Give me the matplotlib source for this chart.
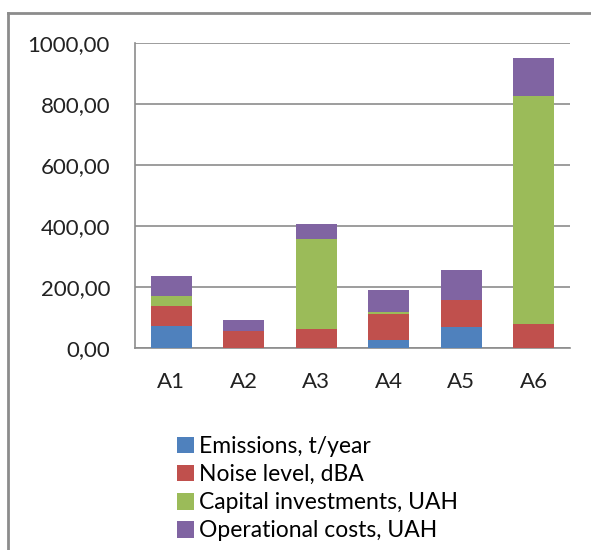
import matplotlib

matplotlib.use("Agg")
import matplotlib.pyplot as plt
import numpy as np
from matplotlib.lines import Line2D

# data
categories = ["A1", "A2", "A3", "A4", "A5", "A6"]
emissions = [71, 0, 0, 26, 68, 0]
noise = [67, 55, 62, 87, 91, 80]
capital = [33, 0, 297, 5, 0, 747]
operational = [66, 38, 49, 71, 96, 125]

series = [
    ("Emissions, t/year", emissions, "#4F81BD"),
    ("Noise level, dBA", noise, "#C0504D"),
    ("Capital investments, UAH", capital, "#9BBB59"),
    ("Operational costs, UAH", operational, "#8064A2"),
]
yticks = [0, 200, 400, 600, 800, 1000]

plt.rcParams["font.family"] = ["Lato", "DejaVu Sans"]
W, H = 591, 550
fig = plt.figure(figsize=(W / 100, H / 100), dpi=100)
ax = fig.add_axes([135 / W, 1 - 348 / H, 435 / W, 305 / H])

x = np.arange(len(categories))
bottom = np.zeros(len(categories))
for label, vals, color in series:
    vals = np.array(vals, dtype=float)
    ax.bar(x, vals, 0.57, bottom=bottom, color=color, label=label, zorder=3)
    bottom += vals

ax.set_xlim(-0.5, len(categories) - 0.5)
ax.set_ylim(0, 1000)
ax.set_yticks(yticks)
ax.set_yticklabels([f"{v:.2f}".replace(".", ",") for v in yticks])
ax.set_xticks(x)
ax.set_xticklabels(categories)
ax.tick_params(length=0, labelsize=16, colors="#222222")
ax.tick_params(axis="y", pad=18)
ax.tick_params(axis="x", pad=17)
ax.grid(axis="y", color="#8c8c8c", linewidth=1.2, zorder=0)
for s in ["top", "right"]:
    ax.spines[s].set_visible(False)
for s in ["left", "bottom"]:
    ax.spines[s].set_color("#8c8c8c")
    ax.spines[s].set_linewidth(1.2)

fig.legend(
    loc="upper left",
    bbox_to_anchor=(168 / W, 1 - 427 / H),
    frameon=False,
    fontsize=16.5,
    handlelength=0.72,
    handleheight=0.72,
    handletextpad=0.22,
    labelspacing=0.31,
    borderaxespad=0,
)

# outer frame (partially cropped in the original)
fig.add_artist(Line2D([8 / W, 8 / W], [0, 1 - 13 / H], transform=fig.transFigure,
                      color="#8c8c8c", linewidth=2))
fig.add_artist(Line2D([8 / W, 1], [1 - 13 / H, 1 - 13 / H], transform=fig.transFigure,
                      color="#8c8c8c", linewidth=2))

fig.savefig("out.png", dpi=100, facecolor="white")
